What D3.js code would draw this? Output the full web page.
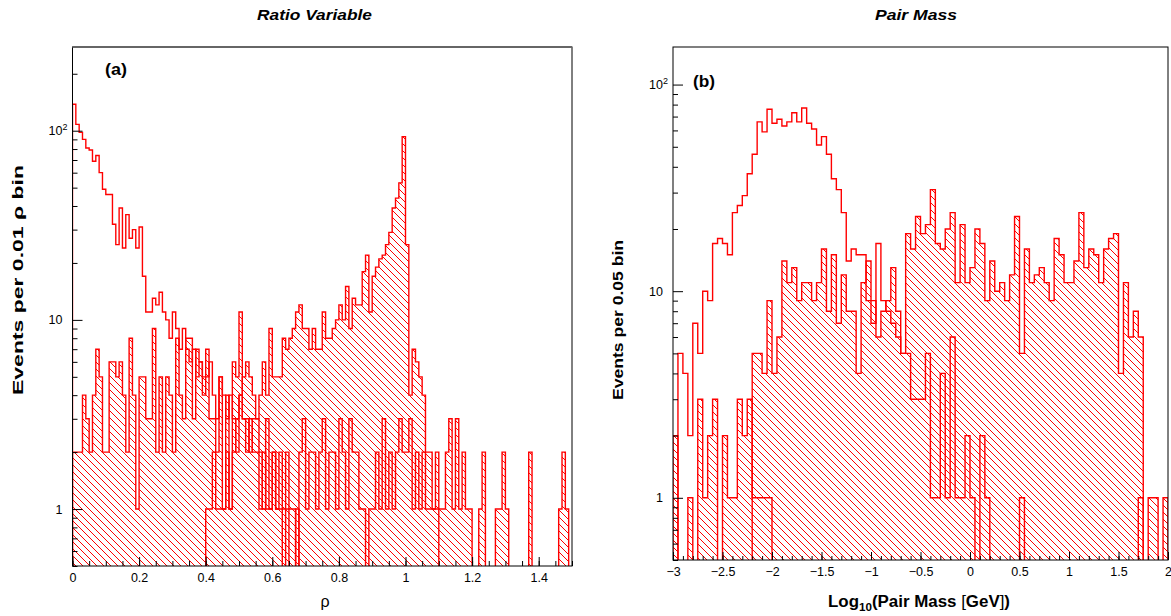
<!DOCTYPE html>
<html>
<head>
<meta charset="utf-8">
<script src="https://cdn.jsdelivr.net/npm/d3@7"></script>
<style>
  body { margin: 0; background: #fff; }
  svg { display: block; }
  text { font-family: "Liberation Sans", Arial, Helvetica, sans-serif; }
</style>
</head>
<body>
<svg id="chart" width="1171" height="616"></svg>
<script>
// ---------- data: panel (a), rho in bins of 0.01 from 0 to 1.5 ----------
const rhoStart = 0, rhoWidth = 0.01;
const rhoTicks = [0, 0.2, 0.4, 0.6, 0.8, 1, 1.2, 1.4];
// open (unfilled) histogram
const rhoOpen = [
  138,108,98,90,81,79,69,74,60,49, 46,46,32,25,39,24,36,27,30,24,
  31,17,11,11,13,12,14,11,10,8, 11,9,7,9,7,6,7,5,6,4,
  5,6,4,3,5,4,3,4,3,2, 4,3,2,3,2,2,1,2,1,1,
  2,1,1,0,1,0,0,1,0,0, 0,0,0,0,0,0,0,0,0,0,
  0,0,0,0,0,0,0,0,0,0, 0,0,0,0,0,0,0,0,0,0,
  0,0,0,0,0,0,0,0,0,0, 0,0,0,0,0,0,0,0,0,0,
  0,0,0,0,0,0,0,0,0,0, 0,0,0,0,0,0,0,0,0,0,
  0,0,0,0,0,0,0,0,0,0
];
// hatched histogram peaking at rho = 1
const rhoPeak = [
  0,0,0,0,0,0,0,0,0,0, 0,0,0,0,0,0,0,0,0,0,
  0,0,0,0,0,0,0,0,0,0, 0,0,0,0,0,0,0,0,0,0,
  1,1,2,1,1,1,2,1,2,3, 4,5,6,5,4,3,4,6,4,9,
  5,5,5,8,7,8,9,11,12,9, 9,7,9,7,7,11,8,8,9,10,
  12,10,15,9,13,12,12,18,22,11, 17,19,21,22,25,29,39,44,53,93,
  25,4,7,6,5,4,2,2,1,1, 0,0,0,0,0,0,0,0,0,0,
  0,0,0,0,0,0,0,0,0,0, 0,0,0,0,0,0,0,0,0,0,
  0,0,0,0,0,0,0,0,0,0
];
// hatched, roughly flat histogram
const rhoFlat = [
  2,2,2,4,3,2,4,7,5,2, 2,6,6,5,6,4,2,8,4,1,
  5,5,3,3,9,2,5,2,5,4, 2,8,4,3,8,8,3,7,6,5,
  7,3,3,2,5,1,4,1,6,5, 11,3,3,2,3,3,2,1,3,1,
  2,1,2,1,2,1,1,0,2,3, 1,2,2,1,2,3,1,2,2,1,
  3,2,1,3,2,2,1,1,0,1, 1,2,1,3,1,2,1,2,3,2,
  2,3,1,2,1,2,1,1,1,2, 1,1,2,3,1,3,1,2,1,1,
  0,0,1,2,0,0,0,1,1,2, 1,0,0,0,0,0,0,2,0,0,
  0,0,0,0,0,0,1,2,1,0
];

// ---------- data: panel (b), log10(mass) in bins of 0.05 from -3 to 2 ----------
const massStart = -3, massWidth = 0.05;
const massTicks = [-3, -2.5, -2, -1.5, -1, -0.5, 0, 0.5, 1, 1.5, 2];
const massOpen = [
  0,5,4,2,7,5,10,9,17,18, 17,15,24,26,29,37,46,66,59,76,
  65,68,63,66,73,66,77,65,61,51, 56,46,35,31,24,14,16,15,15,9,
  7,17,9,8,7,6,5,5,3,3, 3,5,1,1,4,1,6,1,1,2,
  1,0,2,1,0,0,0,0,0,0, 0,0,0,0,0,0,0,0,0,0,
  0,0,0,0,0,0,0,0,0,0, 0,0,0,0,0,0,0,0,0,0
];
const massBroad = [
  0,0,0,0,0,0,0,0,0,0, 0,0,0,0,0,0,5,5,4,9,
  4,6,14,11,13,9,11,11,9,11, 16,8,15,7,12,8,8,4,11,14,
  9,6,8,9,13,8,5,19,16,23, 19,21,31,17,16,20,24,11,21,11,
  13,20,17,9,14,10,11,9,12,23, 5,16,11,12,13,11,9,18,15,11,
  11,14,24,13,16,15,11,16,18,19, 4,11,6,8,6,0,0,0,0,0
];
const massLow = [
  2,0,0,1,0,3,1,2,3,0, 2,1,1,3,2,3,1,1,1,1,
  0,0,0,0,0,0,0,0,0,0, 0,0,0,0,0,0,0,0,0,0,
  0,0,0,0,0,0,0,0,0,0, 0,0,0,0,0,0,0,0,0,0,
  0,0,0,0,0,0,0,0,0,0, 1,0,0,0,0,0,0,0,0,0,
  0,0,0,0,0,0,0,0,0,0, 0,0,0,0,1,0,1,1,0,1
];

const RED = "#ff0000";
const svg = d3.select("#chart");
const defs = svg.append("defs");

// diagonal hatching used by the filled histograms
defs.append("pattern")
  .attr("id", "hatch")
  .attr("patternUnits", "userSpaceOnUse")
  .attr("width", 7).attr("height", 7)
  .append("path")
  .attr("d", "M-1,-1L8,8M-1,6L1,8M6,-1L8,1")
  .attr("stroke", RED).attr("stroke-width", 1).attr("fill", "none");

function drawPanel(cfg) {
  const x = d3.scaleLinear().domain(cfg.xDomain).range([cfg.left, cfg.right]);
  const y = d3.scaleLog().domain(cfg.yDomain).range([cfg.bottom, cfg.top]);
  const floor = cfg.yDomain[0] / 1.6;

  const clipId = "clip-" + cfg.id;
  defs.append("clipPath").attr("id", clipId)
    .append("rect")
    .attr("x", cfg.left).attr("y", cfg.top)
    .attr("width", cfg.right - cfg.left).attr("height", cfg.bottom - cfg.top);

  const g = svg.append("g");
  const plot = g.append("g").attr("clip-path", `url(#${clipId})`);

  const steps = vals => {
    const p = [[cfg.start, floor]];
    vals.forEach((v, i) => {
      const vv = v > 0 ? v : floor;
      p.push([cfg.start + i * cfg.width, vv], [cfg.start + (i + 1) * cfg.width, vv]);
    });
    p.push([cfg.start + vals.length * cfg.width, floor]);
    return p;
  };
  const line = d3.line().x(d => x(d[0])).y(d => y(d[1]));
  const area = d3.area().x(d => x(d[0])).y0(cfg.bottom + 6).y1(d => y(d[1]));

  cfg.hatched.forEach(vals => {
    plot.append("path").attr("d", area(steps(vals)))
      .attr("fill", "url(#hatch)").attr("stroke", "none");
  });
  [...cfg.hatched, cfg.open].forEach(vals => {
    plot.append("path").attr("d", line(steps(vals)))
      .attr("fill", "none").attr("stroke", RED)
      .attr("stroke-width", 1.4).attr("stroke-linejoin", "miter");
  });

  // frame
  g.append("rect")
    .attr("x", cfg.left).attr("y", cfg.top)
    .attr("width", cfg.right - cfg.left).attr("height", cfg.bottom - cfg.top)
    .attr("fill", "none").attr("stroke", "#000").attr("stroke-width", 1);
  if (cfg.topColor) {
    g.append("line")
      .attr("x1", cfg.left).attr("x2", cfg.right)
      .attr("y1", cfg.top).attr("y2", cfg.top)
      .attr("stroke", cfg.topColor).attr("stroke-width", 2);
  }

  // y axis: decades labelled, 2..9 minor ticks
  const lo = Math.floor(Math.log10(cfg.yDomain[0])), hi = Math.ceil(Math.log10(cfg.yDomain[1]));
  const majors = [], minors = [];
  for (let e = lo; e <= hi; e++) {
    for (let m = 1; m <= 9; m++) {
      const v = m * Math.pow(10, e);
      if (v < cfg.yDomain[0] || v > cfg.yDomain[1]) continue;
      (m === 1 ? majors : minors).push(v);
    }
  }
  const yMinor = g.append("g").attr("transform", `translate(${cfg.left},0)`)
    .call(d3.axisLeft(y).tickValues(minors).tickSize(-5).tickSizeOuter(0).tickFormat(""));
  yMinor.select(".domain").remove();
  const yMajor = g.append("g").attr("transform", `translate(${cfg.left},0)`)
    .call(d3.axisLeft(y).tickValues(majors).tickSize(-10).tickSizeOuter(0).tickPadding(10)
      .tickFormat(d => d >= 100 ? "10" : String(Math.round(d))));
  yMajor.select(".domain").remove();
  yMajor.selectAll(".tick text")
    .attr("font-size", 12.5).attr("font-family", "Liberation Sans, Arial, sans-serif")
    .each(function (d) {
      if (d >= 100) {
        const t = d3.select(this).attr("x", -5);
        t.append("tspan").attr("dy", "-0.6em").attr("font-size", 9).text("2");
      }
    });

  // x axis
  const xMinor = g.append("g").attr("transform", `translate(0,${cfg.bottom})`)
    .call(d3.axisBottom(x).tickValues(cfg.xMinor).tickSize(-cfg.minorLen).tickSizeOuter(0).tickFormat(""));
  xMinor.select(".domain").remove();
  const xMajor = g.append("g").attr("transform", `translate(0,${cfg.bottom})`)
    .call(d3.axisBottom(x).tickValues(cfg.xTicks).tickSize(-cfg.majorLen).tickSizeOuter(0)
      .tickPadding(7).tickFormat(cfg.xFormat));
  xMajor.select(".domain").remove();
  xMajor.selectAll(".tick text")
    .attr("font-size", 12.5).attr("font-family", "Liberation Sans, Arial, sans-serif");

  return { x, y, g };
}

function range(a, b, step) {
  const out = [];
  const n = Math.round((b - a) / step);
  for (let i = 0; i <= n; i++) out.push(+(a + i * step).toFixed(4));
  return out;
}

const fmt = d => d3.format("~g")(d);

drawPanel({
  id: "a", left: 72.5, right: 572, top: 47, bottom: 566,
  xDomain: [0, 1.5], yDomain: [0.5, 277],
  start: rhoStart, width: rhoWidth,
  open: rhoOpen, hatched: [rhoPeak, rhoFlat],
  xTicks: rhoTicks, xMinor: range(0, 1.5, 0.05), majorLen: 9, minorLen: 5, xFormat: fmt,
  topColor: "#666"
});

drawPanel({
  id: "b", left: 673, right: 1168, top: 47, bottom: 560,
  xDomain: [-3, 2], yDomain: [0.5, 152],
  start: massStart, width: massWidth,
  open: massOpen, hatched: [massBroad, massLow],
  xTicks: massTicks, xMinor: range(-3, 2, 0.1), majorLen: 8, minorLen: 4, xFormat: fmt
});

// titles and labels
const T = svg.append("g").attr("fill", "#000");
T.append("text").attr("x", 314.5).attr("y", 20).attr("text-anchor", "middle")
  .attr("font-size", 14).attr("font-weight", "bold").attr("font-style", "italic")
  .attr("textLength", 115).attr("lengthAdjust", "spacingAndGlyphs").text("Ratio Variable");
T.append("text").attr("x", 916).attr("y", 20).attr("text-anchor", "middle")
  .attr("font-size", 14).attr("font-weight", "bold").attr("font-style", "italic")
  .attr("textLength", 82).attr("lengthAdjust", "spacingAndGlyphs").text("Pair Mass");

T.append("text").attr("x", 105).attr("y", 75)
  .attr("font-size", 16).attr("font-weight", "bold")
  .attr("textLength", 22).attr("lengthAdjust", "spacingAndGlyphs").text("(a)");
T.append("text").attr("x", 693).attr("y", 87)
  .attr("font-size", 16).attr("font-weight", "bold")
  .attr("textLength", 22).attr("lengthAdjust", "spacingAndGlyphs").text("(b)");

T.append("text").attr("transform", "translate(23,395) rotate(-90)")
  .attr("font-size", 15).attr("font-weight", "bold")
  .attr("textLength", 230).attr("lengthAdjust", "spacingAndGlyphs")
  .text("Events per 0.01 ρ bin");
T.append("text").attr("transform", "translate(623,400) rotate(-90)")
  .attr("font-size", 15).attr("font-weight", "bold")
  .attr("textLength", 160).attr("lengthAdjust", "spacingAndGlyphs")
  .text("Events per 0.05 bin");

T.append("text").attr("x", 325).attr("y", 607).attr("text-anchor", "middle")
  .attr("font-size", 16).text("ρ");

const xl = T.append("text").attr("x", 828).attr("y", 607)
  .attr("font-size", 16).attr("font-weight", "bold")
  .attr("textLength", 182).attr("lengthAdjust", "spacingAndGlyphs");
xl.append("tspan").text("Log");
xl.append("tspan").attr("font-size", 11).attr("dy", 4).text("10");
xl.append("tspan").attr("dy", -4).text("(Pair Mass ");
xl.append("tspan").attr("font-weight", "normal").text("[");
xl.append("tspan").text("GeV");
xl.append("tspan").attr("font-weight", "normal").text("]");
xl.append("tspan").text(")");
</script>
</body>
</html>
